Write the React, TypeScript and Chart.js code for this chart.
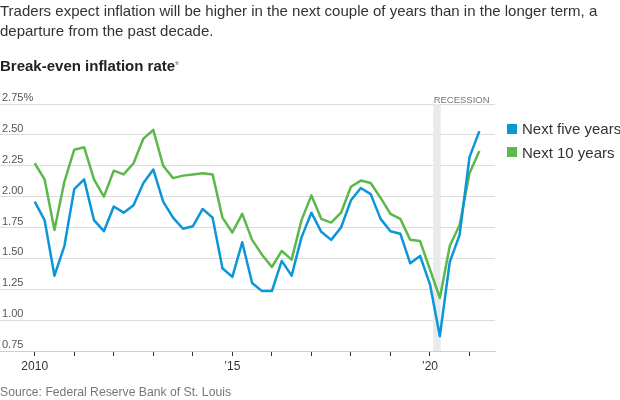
import React, { useEffect, useRef } from "react";
import { Chart, registerables } from "chart.js";

Chart.register(...registerables);

// Quarterly observations
const QUARTERS = [
  "2010Q1", "2010Q2", "2010Q3", "2010Q4",
  "2011Q1", "2011Q2", "2011Q3", "2011Q4",
  "2012Q1", "2012Q2", "2012Q3", "2012Q4",
  "2013Q1", "2013Q2", "2013Q3", "2013Q4",
  "2014Q1", "2014Q2", "2014Q3", "2014Q4",
  "2015Q1", "2015Q2", "2015Q3", "2015Q4",
  "2016Q1", "2016Q2", "2016Q3", "2016Q4",
  "2017Q1", "2017Q2", "2017Q3", "2017Q4",
  "2018Q1", "2018Q2", "2018Q3", "2018Q4",
  "2019Q1", "2019Q2", "2019Q3", "2019Q4",
  "2020Q1", "2020Q2", "2020Q3", "2020Q4",
  "2021Q1", "2021Q2",
];

const NEXT_FIVE = [
  1.96, 1.81, 1.36, 1.6, 2.06, 2.14, 1.81, 1.72, 1.92, 1.87,
  1.93, 2.11, 2.22, 1.96, 1.83, 1.74, 1.76, 1.9, 1.83, 1.42,
  1.35, 1.63, 1.3, 1.235, 1.235, 1.48, 1.36, 1.67, 1.87, 1.715,
  1.65, 1.75, 1.97, 2.07, 2.02, 1.82, 1.72, 1.7, 1.46, 1.52,
  1.29, 0.87, 1.47, 1.69, 2.32, 2.53,
];

const NEXT_TEN = [
  2.27, 2.14, 1.73, 2.12, 2.38, 2.4, 2.14, 2.0, 2.21, 2.18,
  2.27, 2.47, 2.54, 2.25, 2.15, 2.17, 2.18, 2.19, 2.18, 1.83,
  1.71, 1.86, 1.65, 1.53, 1.43, 1.56, 1.49, 1.81, 2.01, 1.82,
  1.79, 1.87, 2.08, 2.13, 2.11, 1.99, 1.86, 1.82, 1.65, 1.64,
  1.41, 1.18, 1.6, 1.77, 2.19, 2.37,
];

const SERIES_NAMES = ["Next five years", "Next 10 years"];
const SERIES_COLORS = ["#0a96d9", "#5cb84a"];

const X_TICK_YEARS = [2010, 2011, 2012, 2013, 2014, 2015, 2016, 2017, 2018, 2019, 2020, 2021];
const X_TICK_LABELS: Record<number, string> = { 2010: "2010", 2015: "\u201915", 2020: "\u201920" };
const Y_MIN = 0.75;
const Y_MAX = 2.75;
const Y_STEP = 0.25;
const X_MIN = 2009.122;
const X_MAX = 2021.645;
const RECESSION = [2020.08, 2020.27];

const TITLE_LINES = [
  "Traders expect inflation will be higher in the next couple of years than in the longer term, a",
  "departure from the past decade.",
];
const SUBTITLE = "Break-even inflation rate";
const SOURCE = "Source: Federal Reserve Bank of St. Louis";

const FONT = "'Liberation Sans', Arial, sans-serif";

function quarterToYear(q: string): number {
  const y = parseInt(q.slice(0, 4), 10);
  const n = parseInt(q.slice(5), 10);
  return y + (n - 1) / 4;
}

const recessionPlugin = {
  id: "recession",
  beforeDatasetsDraw(chart: any) {
    const { ctx, chartArea, scales } = chart;
    const x0 = scales.x.getPixelForValue(RECESSION[0]);
    const x1 = scales.x.getPixelForValue(RECESSION[1]);
    ctx.save();
    ctx.fillStyle = "#e9eaeb";
    ctx.fillRect(x0, chartArea.top, x1 - x0, chartArea.bottom - chartArea.top);
    ctx.fillStyle = "#777";
    ctx.font = `9.5px ${FONT}`;
    ctx.textBaseline = "alphabetic";
    ctx.textAlign = "left";
    ctx.fillText("RECESSION", x0 + 0.5, chartArea.top - 1.5);
    ctx.restore();
  },
};

export default function App() {
  const canvasRef = useRef<HTMLCanvasElement | null>(null);

  useEffect(() => {
    if (!canvasRef.current) return;
    const xs = QUARTERS.map(quarterToYear);
    const chart = new Chart(canvasRef.current, {
      type: "line",
      data: {
        datasets: [NEXT_FIVE, NEXT_TEN].map((vals, i) => ({
          label: SERIES_NAMES[i],
          data: vals.map((v, j) => ({ x: xs[j], y: v })),
          borderColor: SERIES_COLORS[i],
          backgroundColor: SERIES_COLORS[i],
          borderWidth: 2.5,
          pointRadius: 0,
          tension: 0,
          borderJoinStyle: "round" as const,
        })),
      },
      options: {
        animation: false,
        responsive: false,
        maintainAspectRatio: false,
        events: [],
        layout: { padding: { top: 104, right: 125, left: 0, bottom: 0 } },
        plugins: {
          legend: { display: false },
          tooltip: { enabled: false },
        },
        scales: {
          x: {
            type: "linear",
            min: X_MIN,
            max: X_MAX,
            afterBuildTicks: (scale: any) => {
              scale.ticks = X_TICK_YEARS.map((v) => ({ value: v }));
            },
            afterFit: (scale: any) => {
              scale.height = 49;
            },
            border: { display: true, color: "#cfcfcf", width: 1 },
            grid: {
              drawOnChartArea: false,
              drawTicks: true,
              tickLength: 5,
              tickColor: "#333",
              tickWidth: 1,
            },
            ticks: {
              autoSkip: false,
              maxRotation: 0,
              padding: 3,
              color: "#333",
              font: { family: FONT, size: 12 },
              callback: (v: any) => X_TICK_LABELS[Number(v)] ?? "",
            },
          },
          y: {
            type: "linear",
            min: Y_MIN,
            max: Y_MAX,
            afterFit: (scale: any) => {
              scale.width = 0;
            },
            border: { display: false },
            grid: { color: "#dcdcdc", lineWidth: 1, drawTicks: false },
            ticks: {
              stepSize: Y_STEP,
              mirror: true,
              padding: 2,
              labelOffset: -6,
              color: "#555",
              font: { family: FONT, size: 11 },
              callback: (v: any) => {
                const n = Number(v);
                const s = n.toFixed(2);
                return Math.abs(n - Y_MAX) < 1e-9 ? s + "%" : s;
              },
            },
          },
        },
      },
      plugins: [recessionPlugin],
    });
    return () => chart.destroy();
  }, []);

  return (
    <div
      style={{
        position: "absolute",
        left: 0,
        top: 0,
        width: 620,
        height: 400,
        background: "#fff",
        fontFamily: FONT,
        overflow: "hidden",
      }}
    >
      <canvas
        ref={canvasRef}
        width={620}
        height={400}
        style={{ position: "absolute", left: 0, top: 0, width: 620, height: 400 }}
      />
      <div
        style={{
          position: "absolute",
          left: 0,
          top: 1,
          fontSize: 15,
          lineHeight: "20px",
          color: "#333",
          whiteSpace: "nowrap",
        }}
      >
        {TITLE_LINES.map((t, i) => (
          <div key={i}>{t}</div>
        ))}
      </div>
      <div
        style={{
          position: "absolute",
          left: 0,
          top: 57,
          fontSize: 15,
          lineHeight: "18px",
          fontWeight: "bold",
          color: "#222",
          whiteSpace: "nowrap",
        }}
      >
        {SUBTITLE}
        <span style={{ fontWeight: "normal", fontSize: 10, color: "#777", verticalAlign: "top" }}>*</span>
      </div>
      <div style={{ position: "absolute", left: 507, top: 117 }}>
        {SERIES_NAMES.map((name, i) => (
          <div
            key={name}
            style={{ display: "flex", alignItems: "center", height: 23.5, whiteSpace: "nowrap" }}
          >
            <span
              style={{
                display: "inline-block",
                width: 10,
                height: 10,
                background: SERIES_COLORS[i],
                marginRight: 5,
              }}
            />
            <span style={{ fontSize: 15, color: "#333" }}>{name}</span>
          </div>
        ))}
      </div>
      <div
        style={{
          position: "absolute",
          left: 0,
          top: 384,
          fontSize: 12.2,
          lineHeight: "16px",
          color: "#777",
          whiteSpace: "nowrap",
        }}
      >
        {SOURCE}
      </div>
    </div>
  );
}
